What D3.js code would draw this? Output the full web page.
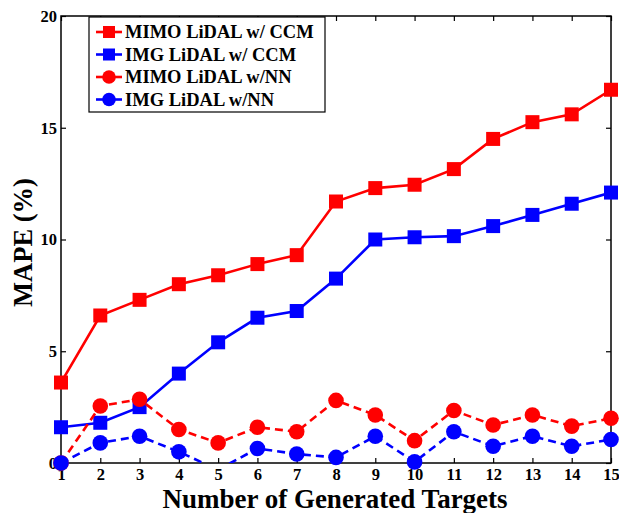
<!DOCTYPE html>
<html>
<head>
<meta charset="utf-8">
<script src="https://cdn.jsdelivr.net/npm/d3@7"></script>
<style>
  body { margin: 0; background: #fff; }
  text { font-family: "Liberation Serif", "DejaVu Serif", serif; font-weight: bold; }
</style>
</head>
<body>
<svg id="chart" width="619" height="513"></svg>
<script>
// data
const targets = d3.range(1, 16);
const mimoCcm = [3.6, 6.6, 7.3, 8.0, 8.4, 8.9, 9.3, 11.7, 12.3, 12.45, 13.15, 14.5, 15.25, 15.6, 16.7];
const imgCcm = [1.6, 1.8, 2.5, 4.0, 5.4, 6.5, 6.8, 8.25, 10.0, 10.1, 10.15, 10.6, 11.1, 11.6, 12.1];
const mimoNn = [0.0, 2.55, 2.85, 1.5, 0.9, 1.6, 1.4, 2.8, 2.15, 1.0, 2.35, 1.7, 2.15, 1.65, 2.0];
const imgNn = [0.0, 0.9, 1.2, 0.5, -0.3, 0.65, 0.4, 0.25, 1.2, 0.05, 1.4, 0.75, 1.2, 0.75, 1.05];
const yTicks = [0, 5, 10, 15, 20];

const series = [
    { name: 'MIMO LiDAL w/ CCM', values: mimoCcm, color: '#ff0000', shape: 'square', dash: null },
    { name: 'IMG LiDAL w/ CCM', values: imgCcm, color: '#0000ff', shape: 'square', dash: null },
    { name: 'MIMO LiDAL w/NN', values: mimoNn, color: '#ff0000', shape: 'circle', dash: '8,5' },
    { name: 'IMG LiDAL w/NN', values: imgNn, color: '#0000ff', shape: 'circle', dash: '8,5' },
];

const svg = d3.select('#chart');
const margin = { top: 16, right: 8, bottom: 50, left: 61 };
const width = 619 - margin.left - margin.right;
const height = 513 - margin.top - margin.bottom;

const x = d3.scaleLinear().domain([1, 15]).range([0, width]);
const y = d3.scaleLinear().domain([0, 20]).range([height, 0]);

const g = svg.append('g').attr('transform', `translate(${margin.left},${margin.top})`);

svg.append('defs').append('clipPath').attr('id', 'plot-clip')
    .append('rect').attr('width', width).attr('height', height);

// axes, ticks pointing inward on all four sides
const tickLen = 5;
g.append('g').attr('transform', `translate(0,${height})`)
    .call(d3.axisBottom(x).tickValues(targets).tickSizeInner(-tickLen).tickSizeOuter(0).tickPadding(5).tickFormat(d3.format('d')));
g.append('g')
    .call(d3.axisTop(x).tickValues(targets).tickSizeInner(-tickLen).tickSizeOuter(0).tickFormat(''));
g.append('g')
    .call(d3.axisLeft(y).tickValues(yTicks).tickSizeInner(-tickLen).tickSizeOuter(0).tickPadding(4));
g.append('g').attr('transform', `translate(${width},0)`)
    .call(d3.axisRight(y).tickValues(yTicks).tickSizeInner(-tickLen).tickSizeOuter(0).tickFormat(''));

g.selectAll('.domain').remove();
g.selectAll('.tick line').attr('stroke', '#000').attr('stroke-width', 1.2);
g.selectAll('.tick text').attr('font-size', 16.5).attr('fill', '#000');

g.append('rect')
    .attr('width', width).attr('height', height)
    .attr('fill', 'none').attr('stroke', '#000').attr('stroke-width', 1.5);

// axis titles
svg.append('text')
    .attr('x', 335).attr('y', 508)
    .attr('text-anchor', 'middle').attr('font-size', 27)
    .text('Number of Generated Targets');
svg.append('text')
    .attr('transform', `translate(32,${margin.top + height / 2 + 3}) rotate(-90)`)
    .attr('text-anchor', 'middle').attr('font-size', 26.5)
    .text('MAPE (%)');

// series
const line = d3.line().x((d, i) => x(targets[i])).y(d => y(d));

function drawMarker(sel, shape, color, cx, cy, size) {
    if (shape === 'square') {
        sel.append('rect')
            .attr('x', cx - size / 2).attr('y', cy - size / 2)
            .attr('width', size).attr('height', size)
            .attr('fill', color);
    } else {
        sel.append('circle')
            .attr('cx', cx).attr('cy', cy).attr('r', size / 2 + 0.8)
            .attr('fill', color);
    }
}

series.forEach(s => {
    g.append('path')
        .datum(s.values)
        .attr('clip-path', 'url(#plot-clip)')
        .attr('fill', 'none')
        .attr('stroke', s.color)
        .attr('stroke-width', 2.6)
        .attr('stroke-dasharray', s.dash)
        .attr('d', line);
    const marks = g.append('g');
    s.values.forEach((v, i) => {
        if (v < y.domain()[0]) return; // marker outside axes is not drawn
        drawMarker(marks, s.shape, s.color, x(targets[i]), y(v), 14);
    });
});

// legend
const legend = svg.append('g').attr('transform', 'translate(89,17)');
legend.append('rect')
    .attr('width', 236).attr('height', 95)
    .attr('fill', '#fff').attr('stroke', '#000').attr('stroke-width', 1.2);
series.forEach((s, i) => {
    const ly = 15 + i * 22.5;
    const item = legend.append('g');
    item.append('line')
        .attr('x1', 7).attr('x2', 33).attr('y1', ly).attr('y2', ly)
        .attr('stroke', s.color).attr('stroke-width', 2.6);
    drawMarker(item, s.shape, s.color, 20, ly, 12);
    item.append('text')
        .attr('x', 36).attr('y', ly + 6)
        .attr('font-size', 18.5)
        .text(s.name);
});
</script>
</body>
</html>
